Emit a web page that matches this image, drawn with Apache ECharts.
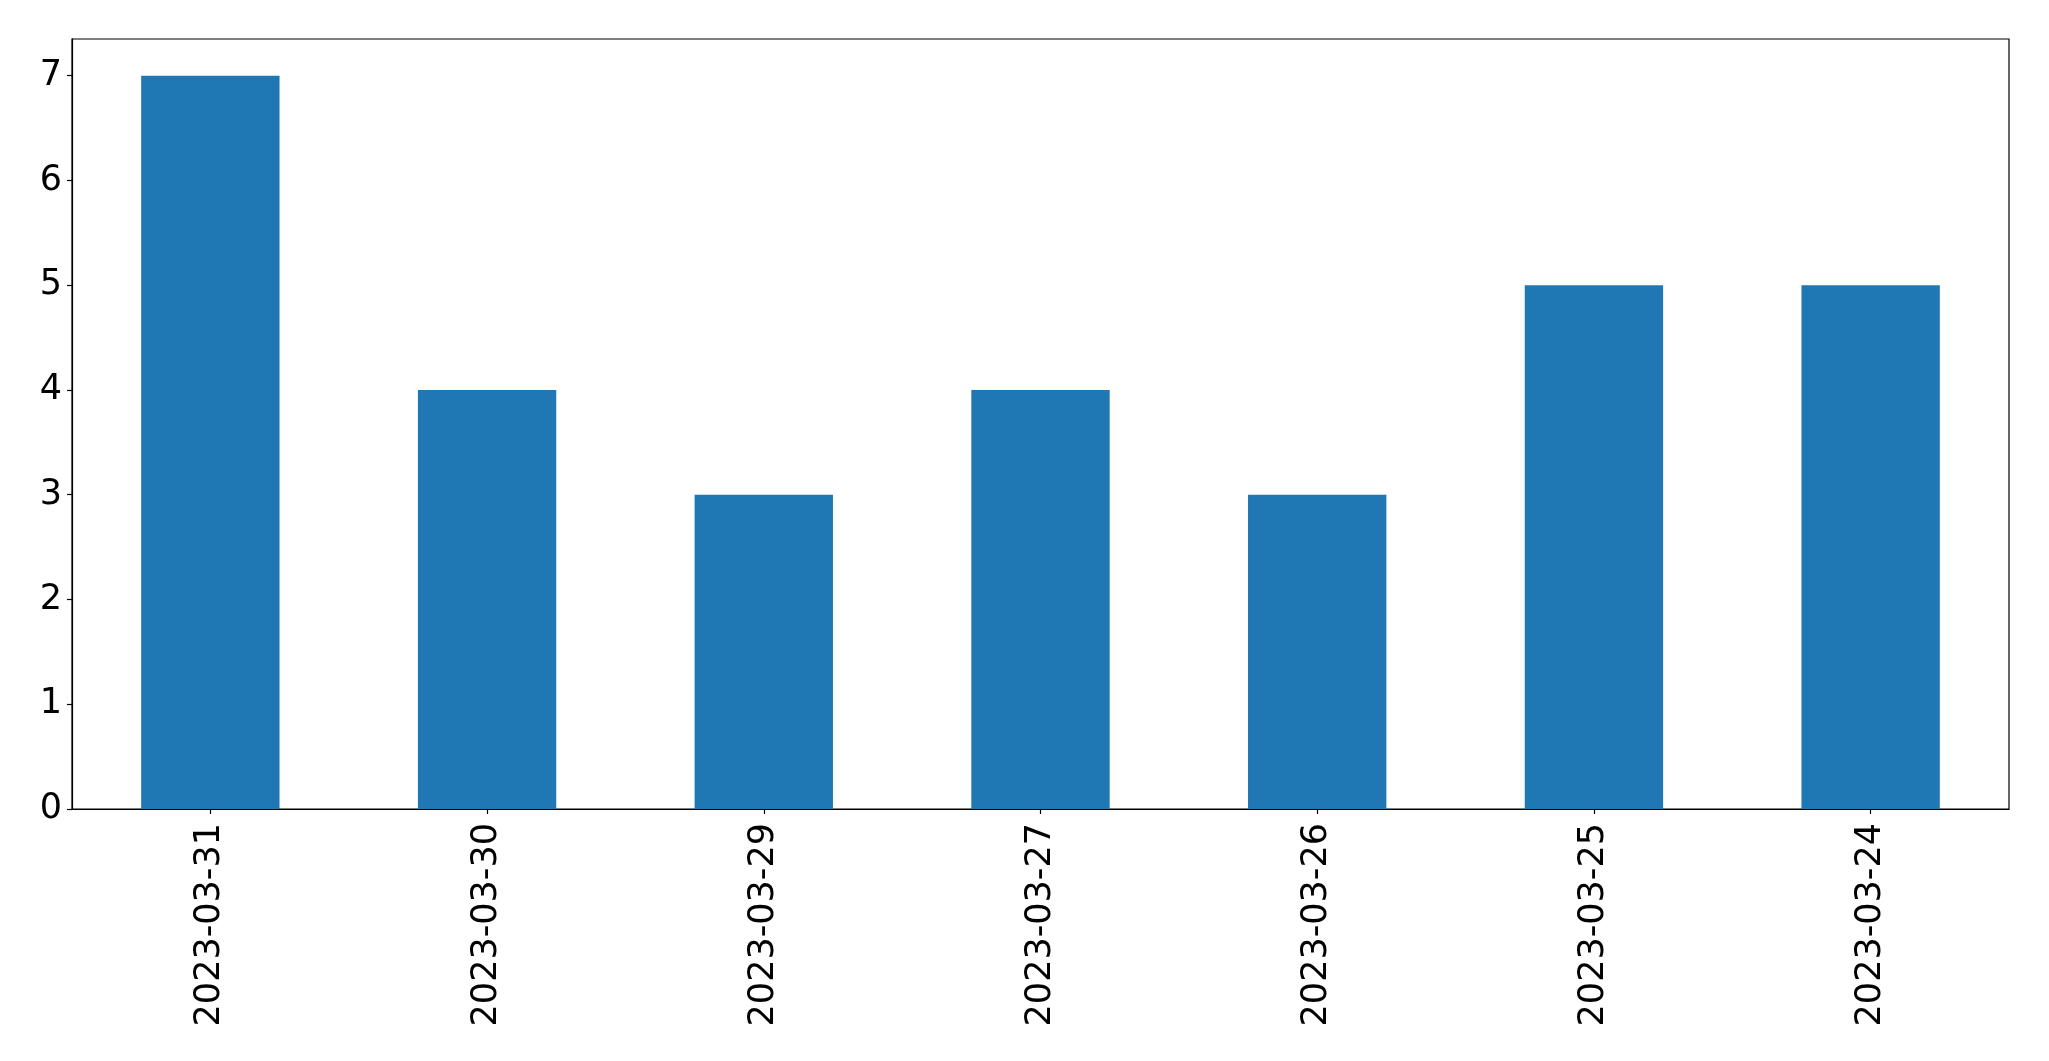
<!DOCTYPE html>
<html>
<head>
<meta charset="utf-8">
<script src="https://cdn.jsdelivr.net/npm/echarts@6/dist/echarts.min.js"></script>
<style>
  html, body { margin: 0; padding: 0; background: #fff; }
  #chart { width: 2049px; height: 1061px; }
</style>
</head>
<body>
<div id="chart"></div>
<script>
const categories = ['2023-03-31', '2023-03-30', '2023-03-29', '2023-03-27', '2023-03-26', '2023-03-25', '2023-03-24'];
const counts = [7, 4, 3, 4, 3, 5, 5];
const yTicks = [0, 1, 2, 3, 4, 5, 6, 7];
const yMax = 7.35;

const chart = echarts.init(document.getElementById('chart'), null, { renderer: 'canvas' });
const font = 'DejaVu Sans';
chart.setOption({
  animation: false,
  backgroundColor: '#ffffff',
  grid: {
    left: 72, top: 39, right: 40, bottom: 252,
    show: true, borderColor: '#000', borderWidth: 1.2, backgroundColor: 'transparent'
  },
  xAxis: {
    type: 'category',
    data: categories,
    boundaryGap: true,
    axisLine: { show: true, lineStyle: { color: '#000', width: 1.2 } },
    axisTick: { show: true, alignWithLabel: true, length: 5, lineStyle: { color: '#000', width: 1.2 } },
    axisLabel: { rotate: 90, fontSize: 35, color: '#000', fontFamily: font, margin: 14 },
    splitLine: { show: false }
  },
  yAxis: {
    type: 'value',
    min: 0, max: yMax, interval: 1,
    axisLine: { show: true, lineStyle: { color: '#000', width: 1.2 } },
    axisTick: { show: true, length: 5, customValues: yTicks, lineStyle: { color: '#000', width: 1.2 } },
    axisLabel: { customValues: yTicks, fontSize: 35, color: '#000', fontFamily: font, margin: 10 },
    splitLine: { show: false }
  },
  series: [{
    type: 'bar',
    data: counts,
    barWidth: '50%',
    itemStyle: { color: '#1f77b4' }
  }]
});
</script>
</body>
</html>
